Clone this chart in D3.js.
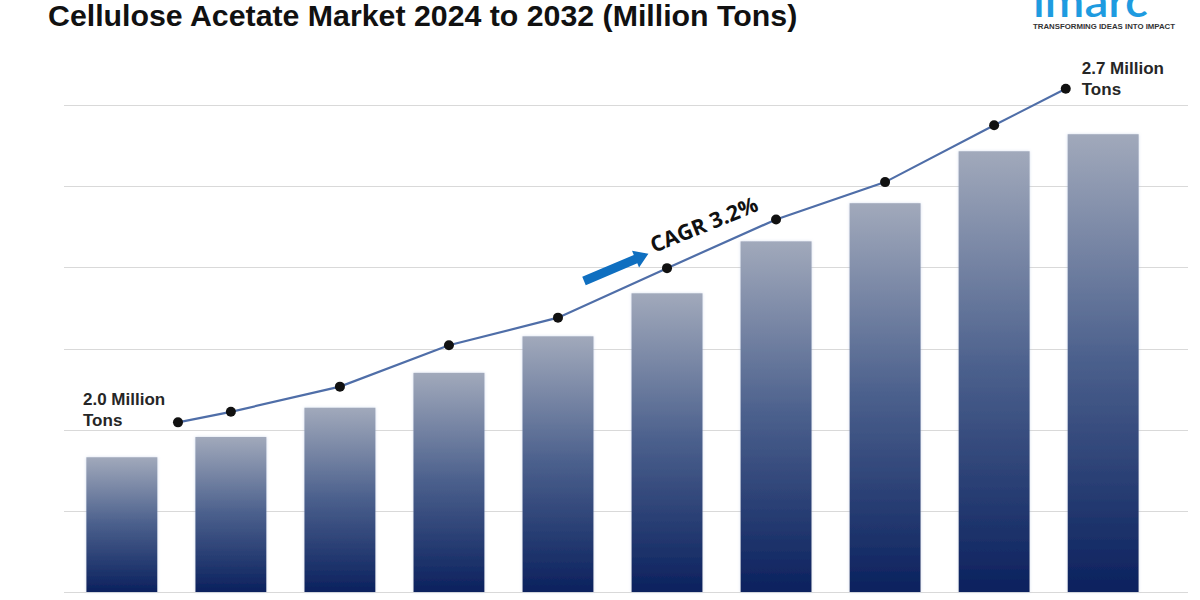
<!DOCTYPE html>
<html>
<head>
<meta charset="utf-8">
<script src="https://cdn.jsdelivr.net/npm/d3@7"></script>
<style>
  html, body { margin: 0; padding: 0; background: #ffffff; }
  svg { display: block; }
</style>
</head>
<body>
<div id="chart"></div>
<script>
// ---- data ----
const years = ["2023","2024","2025","2026","2027","2028","2029","2030","2031","2032"];
const barValues = [16.6, 19.1, 22.7, 27.0, 31.5, 36.8, 43.2, 47.9, 54.3, 56.4];
const trendValues = [20.9, 22.2, 25.3, 30.4, 33.8, 39.9, 45.9, 50.5, 57.5, 62.0];
const gridTicks = [0, 10, 20, 30, 40, 50, 60];
const startLabel = ["2.0 Million", "Tons"];
const endLabel = ["2.7 Million", "Tons"];
const cagrLabel = "CAGR 3.2%";
const titleText = "Cellulose Acetate Market 2024 to 2032 (Million Tons)";

// ---- layout ----
const W = 1200, H = 600;
const svg = d3.select("#chart").append("svg").attr("width", W).attr("height", H);

const x = d3.scaleBand().domain(years).range([64, 1161]).paddingInner(0.349).paddingOuter(0.205);
const y = d3.scaleLinear().domain([0, 60]).range([592, 105]);
const xc = d => x(d) + x.bandwidth() / 2;

// gradient for bars
const defs = svg.append("defs");
const grad = defs.append("linearGradient").attr("id", "barGrad")
  .attr("x1", 0).attr("y1", 0).attr("x2", 0).attr("y2", 1);
grad.append("stop").attr("offset", "0%").attr("stop-color", "#a1a9bb");
grad.append("stop").attr("offset", "50%").attr("stop-color", "#4a5f8c");
grad.append("stop").attr("offset", "100%").attr("stop-color", "#0b215e");

const glow = defs.append("filter").attr("id", "glow").attr("x", "-10%").attr("y", "-10%").attr("width", "120%").attr("height", "120%");
glow.append("feDropShadow").attr("dx", 0).attr("dy", 0).attr("stdDeviation", 1.5)
  .attr("flood-color", "#9fb4d8").attr("flood-opacity", 0.45);

// gridlines
svg.append("g").selectAll("line").data(gridTicks).join("line")
  .attr("x1", 64).attr("x2", 1188)
  .attr("y1", d => Math.round(y(d)) + 0.5).attr("y2", d => Math.round(y(d)) + 0.5)
  .attr("stroke", "#d9d9d9").attr("stroke-width", 1);

// bars
svg.append("g").selectAll("rect").data(years).join("rect")
  .attr("x", d => x(d))
  .attr("width", x.bandwidth())
  .attr("y", (d, i) => y(barValues[i]))
  .attr("height", (d, i) => y(0) - y(barValues[i]))
  .attr("fill", "url(#barGrad)")
  .attr("filter", "url(#glow)");

// trend line: end points pulled inward
const step = x.step();
const lineX = (d, i) => xc(d) + (i === 0 ? 0.515 * step : i === years.length - 1 ? -0.343 * step : 0);
const pts = years.map((d, i) => [lineX(d, i), y(trendValues[i])]);

svg.append("path").datum(pts)
  .attr("d", d3.line())
  .attr("fill", "none").attr("stroke", "#4f6ea8").attr("stroke-width", 2.2);

svg.append("g").selectAll("circle").data(pts).join("circle")
  .attr("cx", d => d[0]).attr("cy", d => d[1]).attr("r", 5)
  .attr("fill", "#111111");

// end labels
const labFont = "'Liberation Sans', Arial, sans-serif";
const p0 = pts[0], pN = pts[pts.length - 1];
svg.append("text").attr("x", p0[0] - 95).attr("y", p0[1] - 17)
  .attr("font-family", labFont).attr("font-weight", "bold").attr("font-size", 17).attr("fill", "#262626")
  .selectAll("tspan").data(startLabel).join("tspan")
  .attr("x", p0[0] - 95).attr("dy", (d, i) => i === 0 ? 0 : 21).text(d => d);

svg.append("text").attr("x", pN[0] + 16).attr("y", pN[1] - 15)
  .attr("font-family", labFont).attr("font-weight", "bold").attr("font-size", 17).attr("fill", "#262626")
  .selectAll("tspan").data(endLabel).join("tspan")
  .attr("x", pN[0] + 16).attr("dy", (d, i) => i === 0 ? 0 : 21).text(d => d);

// CAGR arrow + text
const arr = svg.append("g").attr("transform", "translate(584,281) rotate(-23)");
arr.append("path")
  .attr("d", "M0,-4.5 L56,-4.5 L56,-9 L70,0 L56,9 L56,4.5 L0,4.5 Z")
  .attr("fill", "#0f6fc0");

svg.append("text")
  .attr("transform", "translate(654,253) rotate(-22)")
  .attr("font-family", "'Open Sans', 'Noto Sans', sans-serif")
  .attr("font-weight", "700").attr("font-size", 21.5).attr("fill", "#111111")
  .text(cagrLabel);

// title
svg.append("text").attr("x", 48).attr("y", 26)
  .attr("font-family", labFont).attr("font-weight", "bold").attr("font-size", 30.3).attr("fill", "#111111")
  .text(titleText);

// logo
svg.append("text").attr("x", 1033).attr("y", 17)
  .attr("font-family", "Lato, 'Open Sans', sans-serif").attr("font-weight", "600")
  .attr("font-size", 44).attr("fill", "#1e9be0")
  .attr("textLength", 115).attr("lengthAdjust", "spacingAndGlyphs")
  .text("imarc");
svg.append("text").attr("x", 1033).attr("y", 28.5)
  .attr("font-family", labFont).attr("font-weight", "bold").attr("font-size", 7).attr("fill", "#333333")
  .attr("textLength", 142).attr("lengthAdjust", "spacingAndGlyphs")
  .text("TRANSFORMING IDEAS INTO IMPACT");
</script>
</body>
</html>
